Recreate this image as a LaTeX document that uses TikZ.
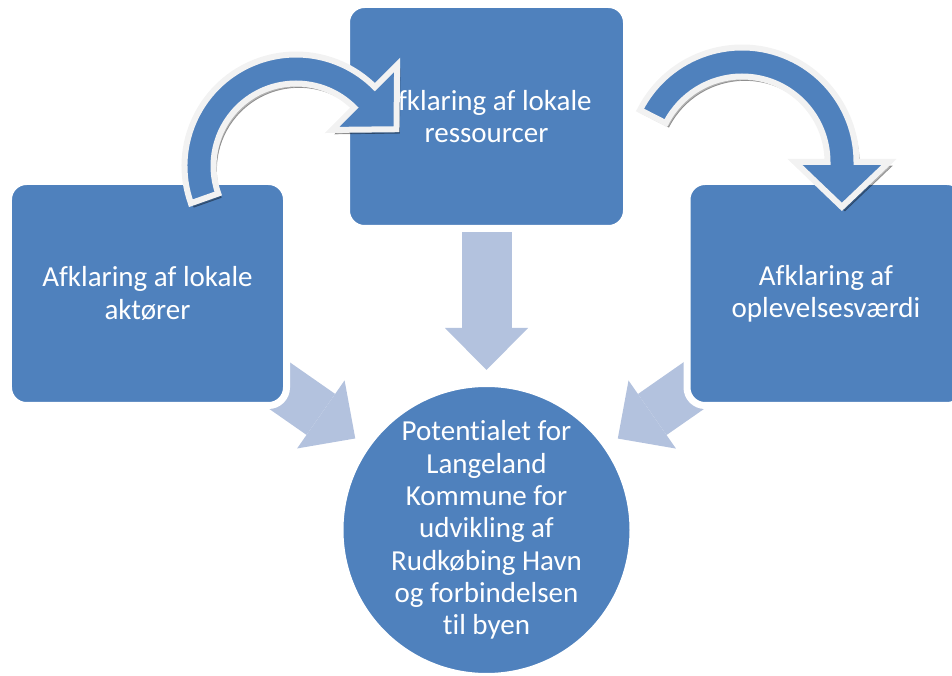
\documentclass[tikz,border=0pt]{standalone}
\usepackage{fontspec}
\setmainfont{Carlito}[Ligatures=NoCommon]
\usepackage{xcolor}
\usepackage{tikz}
\usetikzlibrary{arrows.meta, positioning, backgrounds}
\definecolor{boxblue}{RGB}{79,129,189}
\definecolor{feedblue}{RGB}{179,194,222}
\definecolor{rimwhite}{RGB}{242,242,242}

\begin{document}
\begin{tikzpicture}[
    box/.style={draw=white, line width=0.14cm, fill=boxblue, text=white, minimum width=5.56cm, minimum height=4.48cm, rounded corners=0.36cm, align=center, font=\fontsize{16.5}{18.4}\selectfont},
    hub/.style={circle, draw=white, line width=0.14cm, fill=boxblue, text=white, minimum size=5.86cm, inner sep=0pt, align=center, font=\fontsize{16.5}{18.4}\selectfont},
    feed/.style={feedblue, line width=1cm, shorten >=0.2cm, -{Triangle[length=0.84cm, width=1.66cm, line width=0pt]}},
    bentarrow/.style={fill=boxblue, draw=rimwhite, line width=0.12cm, line join=miter, preaction={fill=black, draw=black, opacity=0.3, transform canvas={shift={(0.06,-0.08)}}}}
]
    \useasboundingbox (0,0) rectangle (19.04,13.5);

    % Boxes
    \node[box] (actors) at (2.95,7.63) {Afklaring af lokale\\aktører};
    \node[box, minimum width=5.6cm] (resources) at (9.73,11.17) {Afklaring af lokale\\ressourcer};
    \node[box] (experience) at (16.52,7.63) {Afklaring af\\oplevelsesværdi};

    % Result
    \node[hub] (potential) at (9.73,2.9) {Potentialet for\\Langeland\\Kommune for\\udvikling af\\Rudkøbing Havn\\og forbindelsen\\til byen};

    % Light arrows into the circle
    \begin{scope}[on background layer]
        \draw[feed] (actors.center) -- (potential);
        \draw[feed] (resources) -- (potential);
        \draw[feed] (experience.center) -- (potential);
    \end{scope}

    % Bent arrows between the boxes
    \begin{scope}[shift={(5.92,10.18)}]
        \path[bentarrow] (199.5:2.23) arc[start angle=199.5, end angle=45, radius=2.23] -- (45:2.86) -- (20.1:2.14) -- (45:1.02) -- (45:1.65) arc[start angle=45, end angle=199.5, radius=1.65] -- cycle;
    \end{scope}
    \begin{scope}[shift={(14.84,10.26)}]
        \path[bentarrow] (153:2.29) arc[start angle=153, end angle=0, radius=2.29] -- (0:2.94) -- (-24.2:2.19) -- (0:1.06) -- (0:1.71) arc[start angle=0, end angle=153, radius=1.71] -- cycle;
    \end{scope}
\end{tikzpicture}
\end{document}
